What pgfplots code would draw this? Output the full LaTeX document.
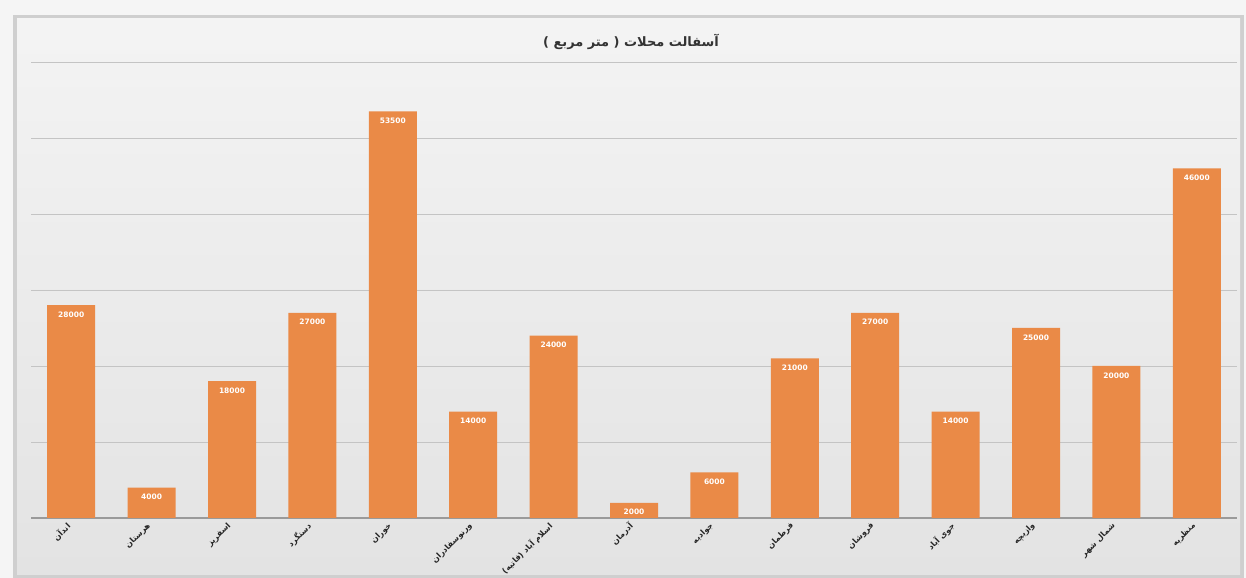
\documentclass[border=0pt]{standalone}
\usepackage{pgfplots}
\pgfplotsset{compat=1.18}
\usepackage{fontspec}
\setmainfont{DejaVu Sans}
\newfontfamily\arabicfont[Script=Arabic]{DejaVu Sans}
\TeXXeTstate=1
\definecolor{barc}{HTML}{EA8A47}
\definecolor{gridc}{HTML}{C4C4C4}
\definecolor{axisc}{HTML}{9A9A9A}

\begin{document}
\begin{tikzpicture}
% page and panel
\useasboundingbox (0bp,0bp) rectangle (1246bp,578bp);
\fill[gray!8] (0bp,0bp) rectangle (1246bp,578bp);
\fill[gray!38] (13bp,0bp) rectangle (1244bp,563bp);
\shade[top color=gray!9, bottom color=gray!22] (17bp,3bp) rectangle (1240bp,559bp);

\node[font=\arabicfont\bfseries\fontsize{13}{15}\selectfont, text=black!80]
  at (631bp,536bp) {\beginR آسفالت محلات ( متر مربع )\endR};

\begin{axis}[
    at={(31bp,60bp)}, anchor=south west,
    scale only axis,
    width=1206bp, height=456bp,
    ybar, bar width=48bp,
    xmin=-0.5, xmax=14.5,
    ymin=0, ymax=60000,
    axis x line*=bottom, axis y line*=left,
    x axis line style={draw=axisc, line width=1.2pt, -},
    y axis line style={draw=none},
    ytick={0,10000,...,60000}, yticklabels={}, ytick style={draw=none},
    scaled y ticks=false,
    ymajorgrids, major grid style={draw=gridc, line width=0.8pt},
    xtick=data, xtick style={draw=none},
    xticklabels={
      {\beginR اندآن\endR},
      {\beginR هرستان\endR},
      {\beginR اسفریز\endR},
      {\beginR دستگرد\endR},
      {\beginR خوران\endR},
      {\beginR ورنوسفادران\endR},
      {\beginR اسلام آباد (فاتیه)\endR},
      {\beginR آدرمان\endR},
      {\beginR جوادیه\endR},
      {\beginR فرطمان\endR},
      {\beginR فروشان\endR},
      {\beginR جوی آباد\endR},
      {\beginR وازیچه\endR},
      {\beginR شمال شهر\endR},
      {\beginR منظریه\endR}},
    xticklabel style={rotate=45, anchor=east, text=black!85,
      font=\arabicfont\bfseries\fontsize{8}{9}\selectfont},
    /pgf/number format/assume math mode=true,
    /pgf/number format/.cd, fixed, precision=0, 1000 sep={},
    /pgfplots/.cd,
    nodes near coords,
    nodes near coords style={text=white, anchor=north, yshift=-3bp,
      font=\bfseries\fontsize{7.5}{8}\selectfont},
]
\addplot[fill=barc, draw=none] coordinates {
  (0,28000) (1,4000) (2,18000) (3,27000) (4,53500)
  (5,14000) (6,24000) (7,2000) (8,6000) (9,21000)
  (10,27000) (11,14000) (12,25000) (13,20000) (14,46000)};
\end{axis}
\end{tikzpicture}
\end{document}
